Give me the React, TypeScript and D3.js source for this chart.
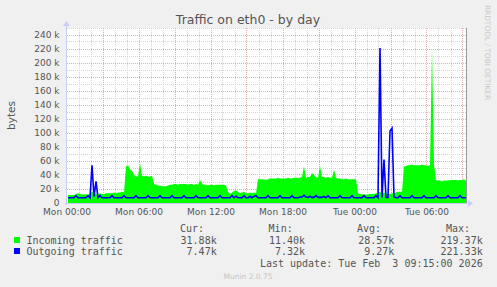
import React from 'react';
import * as d3 from 'd3';

// 10-minute samples, values in kB/s-ish units ("k")
const incoming = [
  11.5, 11.5, 11.5, 11.5, 13, 14, 13, 12, 12, 12.5,
  12, 13, 16, 15, 13, 13, 14, 13, 13, 14,
  14, 14, 14, 15, 14, 15, 15, 16, 15, 52,
  54, 48, 46, 40, 38, 38, 57, 39, 38, 39,
  38, 38, 39, 27, 26, 25, 25, 24, 24, 24,
  25, 26, 26, 27, 27, 26, 27, 27, 27, 27,
  26, 27, 27, 26, 27, 26, 33, 28, 26, 26,
  25, 26, 26, 25, 26, 26, 26, 26, 26, 25,
  16, 13, 15, 17, 18, 16, 14, 15, 16, 14,
  14, 15, 14, 15, 14, 34, 34, 34, 34, 33,
  34, 35, 35, 35, 35, 36, 35, 35, 35, 35,
  36, 35, 35, 36, 36, 36, 36, 37, 52, 36,
  37, 37, 43, 40, 37, 36, 53, 37, 37, 36,
  37, 36, 36, 48, 36, 35, 35, 34, 34, 35,
  34, 34, 34, 34, 34, 14, 13, 12, 12, 12,
  12, 13, 13, 13, 14, 15, 16, 14, 15, 14,
  13, 13, 14, 14, 15, 16, 16, 16, 52, 53,
  54, 54, 55, 54, 54, 54, 54, 55, 54, 54,
  53, 54, 219.37, 55, 33, 32, 32, 31, 32, 32,
  32, 33, 33, 33, 33, 32, 33, 33, 34, 31.88,
];

const outgoing = [
  7.5, 7.5, 7.5, 7.5, 10.5, 7.5, 7.5, 7.5, 7.5, 7.5,
  10.5, 7.5, 54, 9, 31, 7.5, 10.5, 7.5, 7.5, 7.5,
  7.5, 7.5, 10.5, 7.5, 7.5, 7.5, 7.5, 7.5, 10.5, 7.5,
  7.5, 7.5, 7.5, 7.5, 10.5, 7.5, 7.5, 7.5, 7.5, 7.5,
  10.5, 7.5, 7.5, 7.5, 7.5, 7.5, 10.5, 7.5, 7.5, 7.5,
  7.5, 7.5, 10.5, 7.5, 7.5, 7.5, 7.5, 7.5, 10.5, 7.5,
  7.5, 7.5, 7.5, 7.5, 10.5, 7.5, 7.5, 7.5, 7.5, 7.5,
  10.5, 7.5, 7.5, 7.5, 7.5, 7.5, 10.5, 7.5, 7.5, 7.5,
  7.5, 7.5, 10.5, 7.5, 9.5, 7.5, 7.5, 7.5, 10.5, 7.5,
  7.5, 9.5, 7.5, 9.5, 10.5, 7.5, 7.5, 7.5, 7.5, 7.5,
  10.5, 7.5, 7.5, 7.5, 7.5, 7.5, 10.5, 7.5, 7.5, 7.5,
  7.5, 7.5, 10.5, 7.5, 7.5, 7.5, 8.5, 8.5, 11, 8.5,
  8, 9.5, 8, 8, 10.5, 8, 8, 8, 9.5, 7.5,
  10.5, 7.5, 7.5, 7.5, 7.5, 7.5, 10.5, 7.5, 7.5, 7.5,
  7.5, 7.5, 10.5, 7.5, 7.5, 7.5, 7.5, 7.5, 10.5, 7.5,
  7.5, 7.5, 7.5, 7.5, 10.5, 7.5, 221.33, 8, 62, 8,
  8, 103, 107, 9, 7.5, 7.5, 10.5, 7.5, 7.5, 7.5,
  7.5, 7.5, 10.5, 7.5, 7.5, 7.5, 7.5, 7.5, 10.5, 7.5,
  7.5, 7.5, 7.5, 7.5, 10.5, 7.5, 7.5, 7.5, 7.5, 7.5,
  10.5, 7.5, 7.5, 7.5, 7.5, 7.5, 10.5, 7.5, 7.5, 7.47,
];

const xTickHours = [0, 6, 12, 18, 24, 30];
const xTickLabels = ['Mon 00:00', 'Mon 06:00', 'Mon 12:00', 'Mon 18:00', 'Tue 00:00', 'Tue 06:00'];
const yTickValues = [0, 20, 40, 60, 80, 100, 120, 140, 160, 180, 200, 220, 240];

const legendNames = ['Incoming traffic', 'Outgoing traffic'];
const legendCur = ['31.88k', '7.47k'];
const legendMin = ['11.40k', '7.32k'];
const legendAvg = ['28.57k', '9.27k'];
const legendMax = ['219.37k', '221.33k'];
const lastUpdate = 'Last update: Tue Feb  3 09:15:00 2026';

const COLORS = ['#00ff00', '#0000ff'];

export default function App() {
  const W = 497, H = 287;
  const left = 67, right = 467, top = 28, bottom = 203;
  const totalHours = 400 / 12;
  const x = d3.scaleLinear().domain([0, totalHours]).range([left, right]);
  const y = d3.scaleLinear().domain([0, 250]).range([bottom, top]);
  const tOf = (i: number) => (i * 10 + 5) / 60;

  const area = d3.area<number>().x((_, i) => x(tOf(i))).y0(y(0)).y1((d) => y(d));
  const line = d3.line<number>().x((_, i) => x(tOf(i))).y((d) => y(d));

  const hours = d3.range(1, Math.floor(totalHours) + 1);
  const minorV = hours.filter((h) => h % 3 !== 0);
  const majorV = hours.filter((h) => h % 3 === 0);
  const minorH = d3.range(10, 251, 20);
  const majorH = yTickValues.filter((v) => v > 0);
  const px = (v: number) => Math.floor(v) + 0.5;

  const grey = '#555555';
  const sans = 'DejaVu Sans, sans-serif';
  const mono = 'DejaVu Sans Mono, monospace';
  const axisColor = '#c8cdf5';
  const pre = { whiteSpace: 'pre' as const };

  return (
    <svg width={W} height={H} style={{ position: 'fixed', left: 0, top: 0, display: 'block' }}>
      <rect x={0} y={0} width={W} height={H} fill="#f0f0f0" />
      <rect x={left} y={top} width={right - left} height={bottom - top} fill="#ffffff" />

      {/* grid */}
      {minorV.map((h) => (
        <line key={'mv' + h} x1={px(x(h))} x2={px(x(h))} y1={top} y2={bottom} stroke="#d4d4d4" strokeDasharray="1,1" />
      ))}
      {minorH.map((v) => (
        <line key={'mh' + v} x1={left} x2={right} y1={px(y(v))} y2={px(y(v))} stroke="#d4d4d4" strokeDasharray="1,1" />
      ))}
      {majorV.map((h) => (
        <line key={'Mv' + h} x1={px(x(h))} x2={px(x(h))} y1={top} y2={bottom} stroke="#eeaaaa" strokeDasharray="1,1" />
      ))}
      {majorH.map((v) => (
        <line key={'Mh' + v} x1={left} x2={right} y1={px(y(v))} y2={px(y(v))} stroke="#eeaaaa" strokeDasharray="1,1" />
      ))}

      {/* data */}
      <path d={area(incoming) || ''} fill={COLORS[0]} />
      <path d={line(outgoing) || ''} fill="none" stroke={COLORS[1]} strokeWidth={1.6} />

      {/* right frame */}
      <line x1={right - 0.5} x2={right - 0.5} y1={top} y2={bottom} stroke="#999999" />

      {/* axes */}
      <line x1={left - 0.5} x2={left - 0.5} y1={bottom + 2} y2={top - 4} stroke={axisColor} />
      <path d={`M${left - 4},${top - 2} L${left - 0.5},${top - 7} L${left + 3},${top - 2} Z`} fill={axisColor} />
      <line x1={left - 2} x2={right + 2} y1={bottom + 0.5} y2={bottom + 0.5} stroke={axisColor} />
      <path d={`M${right + 1},${bottom - 3} L${right + 6},${bottom + 0.5} L${right + 1},${bottom + 4} Z`} fill={axisColor} />

      {/* title */}
      <text x={248} y={24} textAnchor="middle" fontFamily={sans} fontSize={12.5} fill={grey}>
        Traffic on eth0 - by day
      </text>

      {/* y ticks */}
      {yTickValues.map((v) => (
        <text key={'yt' + v} x={59.5} y={y(v) + 3.3} textAnchor="end" fontFamily={sans} fontSize={9} fill={grey}>
          {v === 0 ? '0' : `${v} k`}
        </text>
      ))}
      <text
        transform={`translate(14.5,${(top + bottom) / 2}) rotate(-90)`}
        textAnchor="middle"
        fontFamily={sans}
        fontSize={10.5}
        fill={grey}
      >
        bytes
      </text>

      {/* x ticks */}
      {xTickHours.map((h, i) => (
        <text key={'xt' + h} x={x(h)} y={215} textAnchor="middle" fontFamily={sans} fontSize={9} fill={grey}>
          {xTickLabels[i]}
        </text>
      ))}

      {/* watermark */}
      <text
        transform={`translate(484.5,52.5) rotate(90)`}
        textAnchor="middle"
        fontFamily={sans}
        fontSize={7.4}
        fill="#c8c8c8"
      >
        RRDTOOL / TOBI OETIKER
      </text>

      {/* legend */}
      <g fontFamily={mono} fontSize={10} fill={grey}>
        <text x={204} y={231.6} textAnchor="end">Cur:</text>
        <text x={292.7} y={231.6} textAnchor="end">Min:</text>
        <text x={381} y={231.6} textAnchor="end">Avg:</text>
        <text x={470} y={231.6} textAnchor="end">Max:</text>
        {legendNames.map((n, i) => {
          const by = 243.6 + i * 11;
          return (
            <g key={n}>
              <rect x={14} y={by - 6.6} width={6} height={6} fill={COLORS[i]} />
              <text x={26.5} y={by}>{n}</text>
              <text x={216.7} y={by} textAnchor="end">{legendCur[i]}</text>
              <text x={305} y={by} textAnchor="end">{legendMin[i]}</text>
              <text x={394.3} y={by} textAnchor="end">{legendAvg[i]}</text>
              <text x={482.7} y={by} textAnchor="end">{legendMax[i]}</text>
            </g>
          );
        })}
        <text x={482.7} y={267.3} textAnchor="end" xmlSpace="preserve" style={pre}>{lastUpdate}</text>
      </g>
      <text x={248} y={278.7} textAnchor="middle" fontFamily={sans} fontSize={7.5} fill="#c4c4c4">
        Munin 2.0.75
      </text>
    </svg>
  );
}
